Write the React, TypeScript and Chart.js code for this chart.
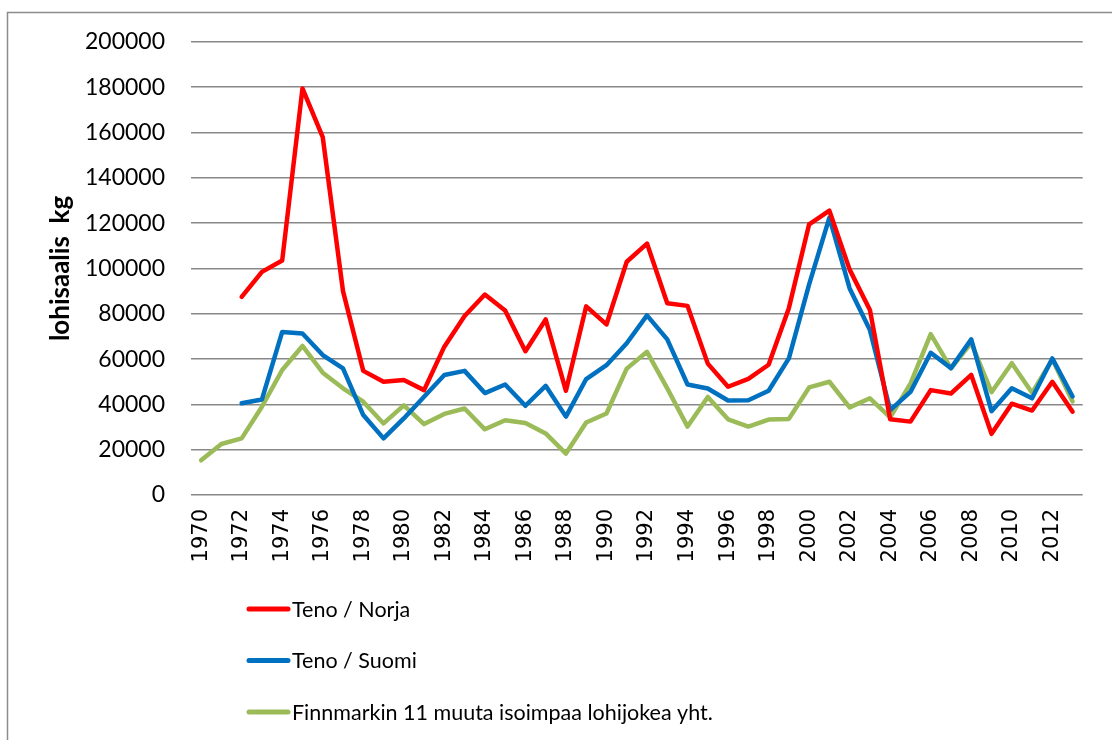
import React, { useEffect, useRef } from "react";
import { Chart, registerables } from "chart.js";

Chart.register(...registerables);

const years: string[] = [
  "1970", "1971", "1972", "1973", "1974", "1975", "1976", "1977", "1978", "1979",
  "1980", "1981", "1982", "1983", "1984", "1985", "1986", "1987", "1988", "1989",
  "1990", "1991", "1992", "1993", "1994", "1995", "1996", "1997", "1998", "1999",
  "2000", "2001", "2002", "2003", "2004", "2005", "2006", "2007", "2008", "2009",
  "2010", "2011", "2012", "2013",
];

const tenoNorja: (number | null)[] = [
  null, null, 87500, 98500, 103500, 179500, 158000, 90000, 54800, 50000,
  50800, 46300, 65500, 79000, 88500, 81500, 63500, 77500, 46000, 83300,
  75300, 103000, 111000, 84700, 83500, 58000, 47800, 51300, 57500, 82500,
  119500, 125500, 99500, 81700, 33400, 32400, 46300, 44800, 53000, 27000,
  40300, 37300, 50000, 36800,
];

const tenoSuomi: (number | null)[] = [
  null, null, 40500, 42200, 72000, 71300, 61800, 55900, 35300, 25000,
  33800, 43400, 53000, 54800, 45000, 48800, 39400, 48200, 34600, 51200,
  57300, 67000, 79300, 68700, 48800, 47000, 41700, 41800, 46000, 60300,
  93000, 122500, 91200, 72800, 37500, 45500, 62800, 56000, 68700, 37000,
  47100, 42700, 60300, 43500,
];

const finnmark: number[] = [
  15300, 22500, 25000, 39000, 55200, 65800, 54000, 47100, 41200, 31600,
  39600, 31300, 35800, 38200, 29000, 33000, 31800, 27200, 18300, 32000,
  36000, 55800, 63200, 47100, 30200, 43300, 33400, 30200, 33300, 33600,
  47500, 50000, 38700, 42700, 34300, 49200, 71000, 55900, 67200, 45400,
  58200, 45100, 59900, 41300,
];

const seriesNames: string[] = [
  "Teno / Norja",
  "Teno / Suomi",
  "Finnmarkin 11 muuta isoimpaa lohijokea yht.",
];

const yAxisTitle = "lohisaalis  kg";

const framePlugin = {
  id: "frame",
  beforeDraw(chart: any) {
    const ctx = chart.ctx;
    ctx.save();
    ctx.fillStyle = "#ffffff";
    ctx.fillRect(0, 0, chart.width, chart.height);
    ctx.strokeStyle = "#8c8c8c";
    ctx.lineWidth = 1.5;
    ctx.strokeRect(7.5, 12.5, chart.width + 20, chart.height + 20);
    ctx.restore();
  },
};

const legendPlugin = {
  id: "customLegend",
  afterDraw(chart: any) {
    const ctx = chart.ctx;
    ctx.save();
    chart.data.datasets.forEach((ds: any, i: number) => {
      const y = 609 + i * 51.5;
      ctx.strokeStyle = ds.borderColor;
      ctx.lineWidth = 5;
      ctx.lineCap = "round";
      ctx.beginPath();
      ctx.moveTo(249, y);
      ctx.lineTo(288, y);
      ctx.stroke();
      ctx.fillStyle = "#000000";
      ctx.font = "21.5px Lato";
      ctx.textBaseline = "middle";
      ctx.textAlign = "left";
      ctx.fillText(ds.label, 292, y + 1);
    });
    ctx.restore();
  },
};

export default function App() {
  const canvasRef = useRef<HTMLCanvasElement | null>(null);

  useEffect(() => {
    document.body.style.margin = "0";
    const canvas = canvasRef.current;
    if (!canvas) return;
    const common = {
      fill: false,
      tension: 0,
      pointRadius: 0,
      pointHoverRadius: 0,
      borderWidth: 4.5,
      borderCapStyle: "round" as const,
      borderJoinStyle: "round" as const,
    };
    const chart = new Chart(canvas, {
      type: "line",
      data: {
        labels: years,
        datasets: [
          { ...common, label: seriesNames[0], data: tenoNorja, borderColor: "#ff0000", backgroundColor: "#ff0000" },
          { ...common, label: seriesNames[1], data: tenoSuomi, borderColor: "#0070c0", backgroundColor: "#0070c0" },
          { ...common, label: seriesNames[2], data: finnmark, borderColor: "#9bbb59", backgroundColor: "#9bbb59" },
        ],
      },
      options: {
        responsive: false,
        animation: false,
        layout: { padding: { left: 0, top: 42, right: 19, bottom: 0 } },
        plugins: {
          legend: { display: false },
          tooltip: { enabled: false },
          title: { display: false },
        },
        scales: {
          x: {
            offset: true,
            grid: { display: false, drawTicks: false },
            border: { display: false },
            ticks: {
              autoSkip: false,
              minRotation: 90,
              maxRotation: 90,
              padding: 14,
              color: "#000000",
              font: { family: "DejaVu Sans", size: 21 },
              callback: function (_v: any, i: number) {
                return i % 2 === 0 ? years[i] : "";
              },
            },
            afterFit(scale: any) {
              scale.height = 245;
            },
          },
          y: {
            min: 0,
            max: 200000,
            grid: { color: "#888888", lineWidth: 1.6, drawTicks: false },
            border: { display: false },
            ticks: {
              stepSize: 20000,
              padding: 26,
              color: "#000000",
              font: { family: "Lato", size: 23 },
              callback: (v: any) => String(v),
            },
            title: {
              display: true,
              text: yAxisTitle,
              color: "#000000",
              font: { family: "Lato", size: 26, weight: "bold" },
              padding: { top: 45, bottom: 0 },
            },
            afterFit(scale: any) {
              scale.width = 191;
            },
          },
        },
      },
      plugins: [framePlugin, legendPlugin],
    });
    return () => chart.destroy();
  }, []);

  return (
    <div style={{ position: "absolute", left: 0, top: 0, width: 1112, height: 740 }}>
      <canvas ref={canvasRef} width={1112} height={740} />
    </div>
  );
}
